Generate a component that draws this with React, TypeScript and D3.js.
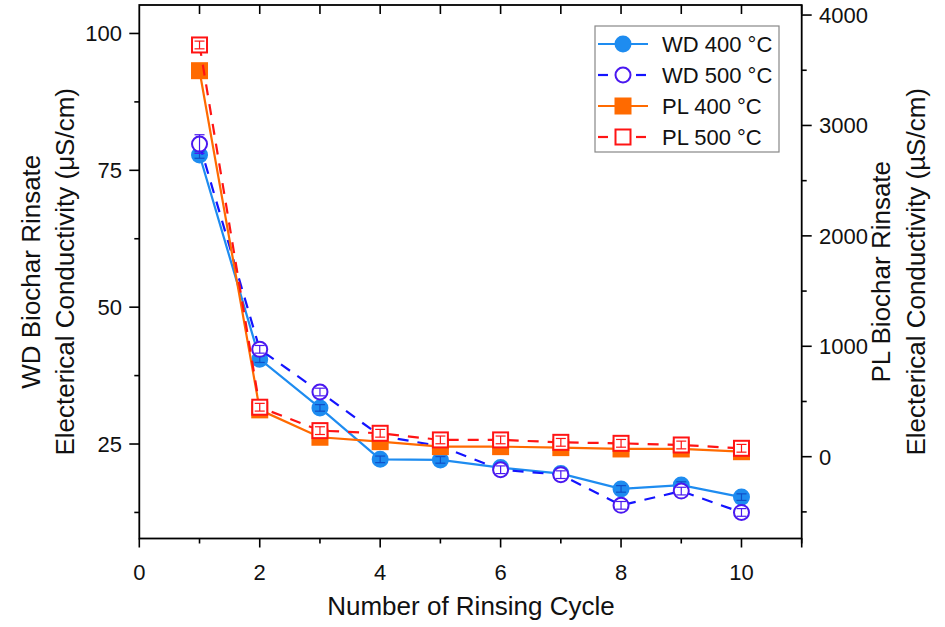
import React from "react";
import * as d3 from "d3";

const cycles = [1, 2, 3, 4, 5, 6, 7, 8, 9, 10];
const wd400 = [77.8, 40.5, 31.6, 22.2, 22.1, 20.7, 19.6, 16.8, 17.5, 15.3];
const wd500 = [79.8, 42.3, 34.5, 26.5, 24.6, 20.3, 19.4, 13.8, 16.4, 12.5];
const pl400 = [3496, 424, 176, 136, 91, 91, 82, 70, 70, 45];
const pl500 = [3729, 448, 236, 212, 152, 152, 130, 121, 106, 76];
const wd400Err = [0.6, 0.6, 0.6, 0.6, 0.6, 0.6, 0.6, 0.6, 0.6, 0.6];
const wd500Err = [1.7, 0.7, 0.7, 0.7, 0.7, 0.7, 0.7, 0.7, 0.7, 0.7];
const pl400Err = [30, 30, 30, 30, 30, 30, 30, 30, 30, 30];
const pl500Err = [35, 35, 35, 35, 35, 35, 35, 35, 35, 35];

const xTicks = [0, 2, 4, 6, 8, 10];
const wdTicks = [25, 50, 75, 100];
const plTicks = [0, 1000, 2000, 3000, 4000];
const legendLabels = ["WD 400 °C", "WD 500 °C", "PL 400 °C", "PL 500 °C"];

const font = "'Liberation Sans', Arial, sans-serif";

const W = 945, H = 627;
const plot = { left: 139.3, right: 801.7, top: 5, bottom: 538.5 };

export default function App() {
  const x = d3.scaleLinear().domain([0, 11]).range([plot.left, plot.right]);
  const yL = d3.scaleLinear().domain([7.74, 105.2]).range([plot.bottom, plot.top]);
  const yR = d3.scaleLinear().domain([-741, 4091]).range([plot.bottom, plot.top]);

  const series = [
    { name: legendLabels[0], vals: wd400, err: wd400Err, y: yL, line: "#1e8cf0", dash: "", marker: "circle", fill: "#1e8cf0", stroke: "#1e8cf0", errColor: "#1050c8" },
    { name: legendLabels[1], vals: wd500, err: wd500Err, y: yL, line: "#1414ff", dash: "11,9", marker: "circle", fill: "#fff", stroke: "#4a18f0", errColor: "#4a18f0" },
    { name: legendLabels[2], vals: pl400, err: pl400Err, y: yR, line: "#ff6a00", dash: "", marker: "square", fill: "#ff6a00", stroke: "#ff6a00", errColor: "#ff6a00" },
    { name: legendLabels[3], vals: pl500, err: pl500Err, y: yR, line: "#ff1414", dash: "11,9", marker: "square", fill: "#fff", stroke: "#ff1414", errColor: "#ff1414" },
  ];

  const line = (ys: any, vals: number[]) =>
    d3.line<number>().x((_, i) => x(cycles[i])).y((v) => ys(v))(vals) || "";

  const drawMarker = (s: any, cx: number, cy: number, key: string) =>
    s.marker === "circle" ? (
      <circle key={key} cx={cx} cy={cy} r={7.5} fill={s.fill} stroke={s.stroke} strokeWidth={2} />
    ) : (
      <rect key={key} x={cx - 7.5} y={cy - 7.5} width={15} height={15} fill={s.fill} stroke={s.stroke} strokeWidth={2} />
    );

  const minorX = d3.range(0, 12, 1);
  const minorL = d3.range(12.5, 105, 12.5);
  const minorR = d3.range(-500, 4001, 500);
  const midY = (plot.top + plot.bottom) / 2;

  return (
    <svg width={W} height={H} style={{ position: "absolute", left: 0, top: 0, background: "#fff" }} fontFamily={font}>
      <rect x={0} y={0} width={W} height={H} fill="#fff" />
      {/* frame */}
      <rect x={plot.left} y={plot.top} width={plot.right - plot.left} height={plot.bottom - plot.top} fill="none" stroke="#000" strokeWidth={1.8} />

      {/* bottom axis */}
      {minorX.map((t) => (
        <line key={"bx" + t} x1={x(t)} x2={x(t)} y1={plot.bottom} y2={plot.bottom + (t % 2 === 0 ? 9 : 5)} stroke="#000" strokeWidth={1.6} />
      ))}
      <line x1={x(11)} x2={x(11)} y1={plot.bottom} y2={plot.bottom + 9} stroke="#000" strokeWidth={1.6} />
      {minorX.slice(1).map((t) => (
        <line key={"tx" + t} x1={x(t)} x2={x(t)} y1={plot.top} y2={plot.top + 9} stroke="#000" strokeWidth={1.6} />
      ))}
      {xTicks.map((t) => (
        <text key={"xl" + t} x={x(t)} y={580} textAnchor="middle" fontSize={22} fill="#111">{t}</text>
      ))}
      <text x={471} y={615} textAnchor="middle" fontSize={26} fill="#111">Number of Rinsing Cycle</text>

      {/* left axis */}
      {minorL.map((t) => (
        <line key={"ml" + t} x1={plot.left} x2={plot.left - (t % 25 === 0 ? 10 : 5)} y1={yL(t)} y2={yL(t)} stroke="#000" strokeWidth={1.6} />
      ))}
      {wdTicks.map((t) => (
        <text key={"ll" + t} x={122} y={yL(t)} dy="0.36em" textAnchor="end" fontSize={22} fill="#111">{t}</text>
      ))}
      <g transform={`translate(31,${midY}) rotate(-90)`}>
        <text textAnchor="middle" fontSize={26} fill="#111" dy="0.35em">WD Biochar Rinsate</text>
      </g>
      <g transform={`translate(65,${midY}) rotate(-90)`}>
        <text textAnchor="middle" fontSize={26} fill="#111" dy="0.35em">Electerical Conductivity (μS/cm)</text>
      </g>

      {/* right axis */}
      {minorR.map((t) => (
        <line key={"mr" + t} x1={plot.right} x2={plot.right + (t % 1000 === 0 ? 10 : 5)} y1={yR(t)} y2={yR(t)} stroke="#000" strokeWidth={1.6} />
      ))}
      {plTicks.map((t) => (
        <text key={"rl" + t} x={819} y={yR(t)} dy="0.36em" textAnchor="start" fontSize={22} fill="#111">{t}</text>
      ))}
      <g transform={`translate(881,${midY}) rotate(-90)`}>
        <text textAnchor="middle" fontSize={26} fill="#111" dy="0.35em">PL Biochar Rinsate</text>
      </g>
      <g transform={`translate(916,${midY}) rotate(-90)`}>
        <text textAnchor="middle" fontSize={26} fill="#111" dy="0.35em">Electerical Conductivity (µS/cm)</text>
      </g>

      {/* series */}
      {series.map((s, si) => (
        <g key={"s" + si}>
          <path d={line(s.y, s.vals)} fill="none" stroke={s.line} strokeWidth={2.2} strokeDasharray={s.dash} />
          {s.vals.map((v, i) => drawMarker(s, x(cycles[i]), s.y(v), "m" + si + "-" + i))}
          {s.vals.map((v, i) => {
            const cx = x(cycles[i]);
            const y1 = s.y(v - s.err[i]);
            const y2 = s.y(v + s.err[i]);
            return (
              <g key={"e" + si + "-" + i} stroke={s.errColor} strokeWidth={1.2}>
                <line x1={cx} x2={cx} y1={y1} y2={y2} />
                <line x1={cx - 5} x2={cx + 5} y1={y1} y2={y1} />
                <line x1={cx - 5} x2={cx + 5} y1={y2} y2={y2} />
              </g>
            );
          })}
        </g>
      ))}

      {/* legend */}
      <rect x={595} y={26} width={184} height={126} fill="#fff" stroke="#888" strokeWidth={1.2} />
      {series.map((s, i) => {
        const ly = 44 + i * 31;
        return (
          <g key={"lg" + i}>
            {s.dash ? (
              <g stroke={s.line} strokeWidth={2.2}>
                <line x1={598} x2={608} y1={ly} y2={ly} />
                <line x1={636} x2={646} y1={ly} y2={ly} />
              </g>
            ) : (
              <line x1={598} x2={648} y1={ly} y2={ly} stroke={s.line} strokeWidth={2.2} />
            )}
            {drawMarker(s, 623, ly, "lm" + i)}
            <text x={662} y={ly} dy="0.36em" fontSize={22} fill="#111">{s.name}</text>
          </g>
        );
      })}
    </svg>
  );
}
